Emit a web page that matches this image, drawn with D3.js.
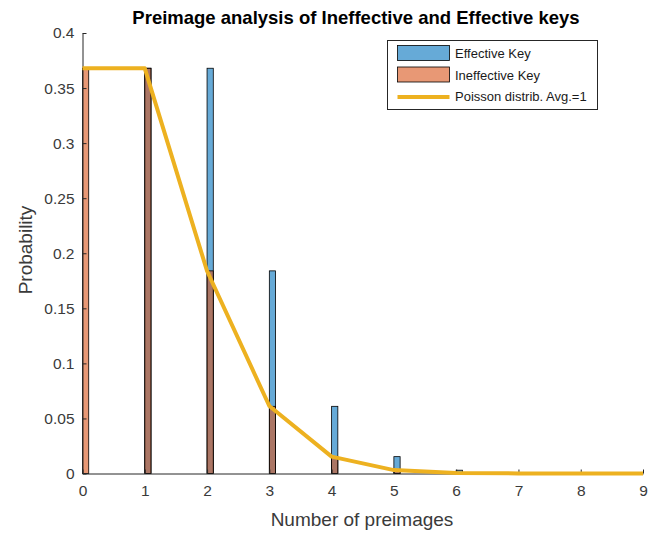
<!DOCTYPE html>
<html><head><meta charset="utf-8">
<script src="https://cdn.jsdelivr.net/npm/d3@7"></script>
<style>body{margin:0;background:#fff}svg{display:block;font-family:"Liberation Sans",Arial,sans-serif}</style>
</head><body><svg id="c" width="655" height="533"></svg>
<script>
const preimages = [0,1,2,3,4,5,6,7,8,9];
const effective = [0,0.368,0.368,0.184,0.061,0.0153,0.003,0.0004,0,0];
const ineffective = [0.368,0.368,0.184,0.061,0.0153,0.003,0.0005,0,0,0];
const poisson = [0.3679,0.3679,0.1839,0.0613,0.0153,0.0031,0.0005,0.0001,0,0];
const xTicks = [0,1,2,3,4,5,6,7,8,9];
const yTicks = [0,0.05,0.1,0.15,0.2,0.25,0.3,0.35,0.4];
const binWidth = 0.1;
const titleText = "Preimage analysis of Ineffective and Effective keys";
const legendLabels = ["Effective Key","Ineffective Key","Poisson distrib. Avg.=1"];

const svg = d3.select("#c");
const x = d3.scaleLinear().domain([0,9]).range([82.5,643]);
const y = d3.scaleLinear().domain([0,0.4]).range([473.5,33]);
const blue = "#0072BD", red = "#D95319", yellow = "#EDB120";

const bars = (vals, col) => svg.append("g").selectAll("rect").data(preimages.filter((d,i)=>vals[i]>0))
  .join("rect")
  .attr("x", d=>x(d)).attr("width", d=>x(d+binWidth)-x(d))
  .attr("y", d=>y(vals[d])).attr("height", d=>y(0)-y(vals[d]))
  .attr("fill", col).attr("fill-opacity",0.6).attr("stroke","#000").attr("stroke-width",0.8);
bars(effective, blue);
bars(ineffective, red);

// axes
const tc = "#3a3a3a";
const gx = svg.append("g").attr("transform",`translate(0,${y(0)})`)
  .call(d3.axisBottom(x).tickValues(xTicks).tickFormat(d3.format("d")).tickSizeInner(-4).tickSizeOuter(0).tickPadding(11));
const gy = svg.append("g").attr("transform",`translate(${x(0)},0)`)
  .call(d3.axisLeft(y).tickValues(yTicks).tickFormat(d=>d===0?"0":String(+d.toFixed(2))).tickSizeInner(-4).tickSizeOuter(0).tickPadding(8));
[gx,gy].forEach(g=>{
  g.select(".domain").attr("stroke","#262626").attr("stroke-width",1);
  g.selectAll(".tick line").attr("stroke","#262626");
  g.selectAll(".tick text").attr("fill",tc).attr("font-size",15.5).attr("font-family","Liberation Sans, Arial, sans-serif");
});

// poisson line
svg.append("path").datum(preimages)
  .attr("d", d3.line().x(d=>x(d)).y((d,i)=>y(poisson[i])))
  .attr("fill","none").attr("stroke",yellow).attr("stroke-width",4).attr("stroke-linejoin","round");

// labels
svg.append("text").attr("x",356).attr("y",24).attr("text-anchor","middle")
  .attr("font-weight","bold").attr("font-size",18.5).attr("fill","#000").text(titleText);
svg.append("text").attr("x",362).attr("y",526).attr("text-anchor","middle")
  .attr("font-size",19).attr("fill",tc).text("Number of preimages");
svg.append("text").attr("transform","translate(32,250) rotate(-90)").attr("text-anchor","middle")
  .attr("font-size",19).attr("fill",tc).text("Probability");

// legend
const lg = svg.append("g");
lg.append("rect").attr("x",387.5).attr("y",40.5).attr("width",210).attr("height",69)
  .attr("fill","#fff").attr("stroke","#262626").attr("stroke-width",1);
const ly = [53,74.5,96];
lg.append("rect").attr("x",397.5).attr("y",45.5).attr("width",52).attr("height",15)
  .attr("fill",blue).attr("fill-opacity",0.6).attr("stroke","#000").attr("stroke-width",0.8);
lg.append("rect").attr("x",397.5).attr("y",67).attr("width",52).attr("height",15)
  .attr("fill",red).attr("fill-opacity",0.6).attr("stroke","#000").attr("stroke-width",0.8);
lg.append("line").attr("x1",397.5).attr("x2",449.5).attr("y1",97).attr("y2",97)
  .attr("stroke",yellow).attr("stroke-width",4);
lg.selectAll("text.l").data(legendLabels).join("text").attr("class","l")
  .attr("x",455).attr("y",(d,i)=>ly[i]+5).attr("font-size",13).attr("fill","#1a1a1a").text(d=>d);
</script></body></html>
